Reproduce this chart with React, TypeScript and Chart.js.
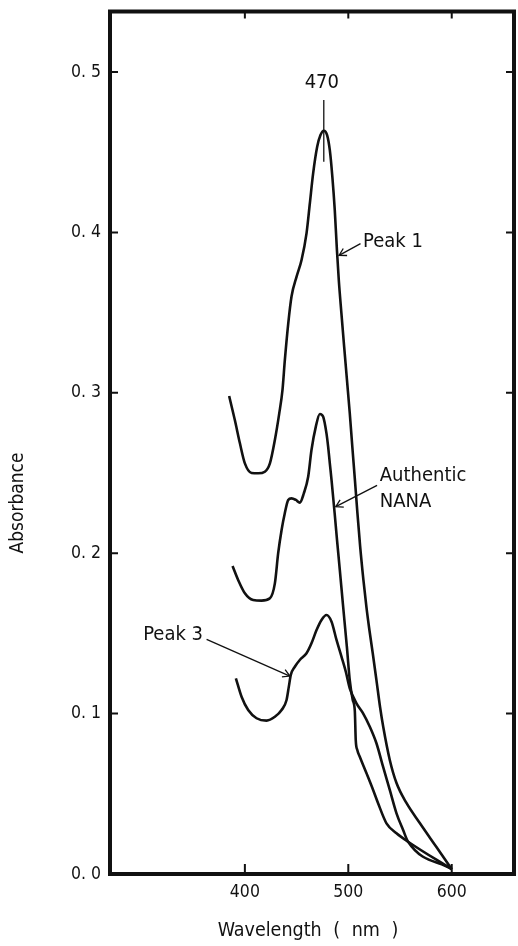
import React, { useEffect, useRef } from "react";
import { Chart, registerables } from "chart.js";

Chart.register(...registerables);

const FONT = "'DejaVu Sans Condensed', 'Liberation Sans Narrow', 'DejaVu Sans', sans-serif";

// Axes
const X_TICKS = [400, 500, 600];
const X_TICK_LABELS = ["400", "500", "600"];
const Y_TICKS = [0, 0.1, 0.2, 0.3, 0.4, 0.5];
const Y_TICK_LABELS = ["0. 0", "0. 1", "0. 2", "0. 3", "0. 4", "0. 5"];
const X_TITLE = "Wavelength ( nm )";
const Y_TITLE = "Absorbance";

// Series: Peak 1
const PEAK1_WL = [
  384.8, 390.3, 395.2, 400, 406.5, 412.9, 419.3, 424.2, 429, 433.2, 436.4, 438.6,
  441.9, 445.1, 450, 454.8, 459.6, 462.8, 466, 469.9, 473.1, 476.3, 479.5, 482.1,
  484.6, 486.9, 489.0, 490.8, 493.3, 496.0, 498.7, 501.4, 503.9, 506.4, 508.8, 511.4,
  514.6, 517.5, 520.4, 523.6, 527.2, 530.7, 533.8, 540.1, 546.6, 556.2, 569.1, 585.2, 600,
];
const PEAK1_ABS = [
  0.298, 0.283, 0.2685, 0.256, 0.25, 0.2498, 0.2508, 0.256, 0.2706, 0.287, 0.302, 0.32,
  0.343, 0.36, 0.3724, 0.3828, 0.3994, 0.418, 0.4368, 0.4534, 0.4607, 0.4634, 0.4607, 0.4514,
  0.4345, 0.414, 0.389, 0.3703, 0.3498, 0.3286, 0.308, 0.2874, 0.2662, 0.2456, 0.2251, 0.2045,
  0.1833, 0.1665, 0.1521, 0.1378, 0.1209, 0.1041, 0.0916, 0.0711, 0.0567, 0.0443, 0.0318, 0.0168, 0.003,
];

// Series: Authentic NANA
const NANA_WL = [
  388.1, 393.5, 400, 408, 416.1, 424.2, 429, 432.2, 435.5, 438.6, 441.9, 445.1, 449.3,
  453.1, 457, 461.2, 464.4, 468.6, 472.5, 475.7, 478.9, 480.5, 482.1, 483.8, 486.8, 489.1,
  491.8, 494.7, 498.6, 501.4, 504.3, 506.3, 507.2, 508.7, 511.1, 517.6, 524, 528.8, 536.9,
  546.6, 557.8, 600,
];
const NANA_ABS = [
  0.192, 0.1833, 0.175, 0.1708, 0.1704, 0.1719, 0.1812, 0.2, 0.2145, 0.2249, 0.2332, 0.2342, 0.2332,
  0.2315, 0.2373, 0.2477, 0.2643, 0.2789, 0.2868, 0.2851, 0.2747, 0.2664, 0.2562, 0.2456, 0.2249, 0.2082,
  0.1895, 0.1688, 0.1417, 0.1209, 0.1085, 0.1016, 0.0835, 0.0773, 0.0731, 0.0628, 0.0524, 0.0441, 0.0316,
  0.0254, 0.0201, 0.003,
];

// Series: Peak 3
const PEAK3_WL = [
  391.3, 396.8, 403.2, 411.3, 421, 429, 435.5, 440.3, 442.5, 444.4, 448.3, 453.1, 459.6,
  464.4, 469.3, 474.1, 478.9, 483.8, 488.6, 493.4, 497.6, 501.4, 507.9, 514.3, 520.8, 527.2,
  533.6, 540.1, 546.6, 553, 557.8, 600,
];
const PEAK3_ABS = [
  0.122, 0.1105, 0.1022, 0.0971, 0.0956, 0.098, 0.1022, 0.1085, 0.1168, 0.1241, 0.1292, 0.1334, 0.1376,
  0.1438, 0.1521, 0.1584, 0.1615, 0.1573, 0.1459, 0.1355, 0.1261, 0.1158, 0.1064, 0.1002, 0.0918, 0.0815,
  0.0669, 0.0524, 0.0378, 0.0274, 0.0201, 0.003,
];

const SERIES_NAMES = ["Peak 1", "Authentic NANA", "Peak 3"];

function toPoints(xs: number[], ys: number[]) {
  return xs.map((x, i) => ({ x, y: ys[i] }));
}

function drawArrow(ctx: CanvasRenderingContext2D, x1: number, y1: number, x2: number, y2: number, head: number) {
  ctx.beginPath();
  ctx.moveTo(x1, y1);
  ctx.lineTo(x2, y2);
  ctx.stroke();
  const ang = Math.atan2(y2 - y1, x2 - x1);
  const a = Math.PI / 6;
  ctx.beginPath();
  ctx.moveTo(x2 - head * Math.cos(ang - a), y2 - head * Math.sin(ang - a));
  ctx.lineTo(x2, y2);
  ctx.lineTo(x2 - head * Math.cos(ang + a), y2 - head * Math.sin(ang + a));
  ctx.stroke();
}

const decorPlugin = {
  id: "decor",
  afterDatasetsDraw(chart: any) {
    const { ctx, chartArea } = chart;
    const xs = chart.scales.x;
    const ys = chart.scales.y;
    const { left, right, top, bottom } = chartArea;
    const px = (v: number) => xs.getPixelForValue(v);
    const py = (v: number) => ys.getPixelForValue(v);
    ctx.save();
    ctx.strokeStyle = "#111";
    ctx.fillStyle = "#111";
    ctx.lineCap = "butt";

    // frame
    ctx.lineWidth = 4;
    ctx.strokeRect(left, top, right - left, bottom - top);

    // inward ticks
    ctx.lineWidth = 2;
    X_TICKS.forEach((v) => {
      const x = px(v);
      ctx.beginPath();
      ctx.moveTo(x, bottom);
      ctx.lineTo(x, bottom - 10);
      ctx.moveTo(x, top);
      ctx.lineTo(x, top + 7);
      ctx.stroke();
    });
    Y_TICKS.filter((v) => v > 0).forEach((v) => {
      const y = py(v);
      ctx.beginPath();
      ctx.moveTo(left, y);
      ctx.lineTo(left + 8, y);
      ctx.moveTo(right, y);
      ctx.lineTo(right - 8, y);
      ctx.stroke();
    });

    // annotations
    ctx.font = `20px ${FONT}`;
    ctx.textBaseline = "alphabetic";
    ctx.textAlign = "center";
    ctx.fillText("470", px(474.4), py(0.4898));
    ctx.lineWidth = 1.3;
    ctx.beginPath();
    ctx.moveTo(px(476.3), py(0.4826));
    ctx.lineTo(px(476.3), py(0.4441));
    ctx.stroke();

    ctx.textAlign = "left";
    ctx.fillText("Peak 1", px(514.3), py(0.3911));
    drawArrow(ctx, px(511.8), py(0.393), px(491.1), py(0.3857), 8);

    ctx.fillText("Authentic", px(530.4), py(0.2452));
    ctx.fillText("NANA", px(530.4), py(0.2286));
    drawArrow(ctx, px(527.8), py(0.2423), px(487.9), py(0.229), 8);

    ctx.fillText("Peak 3", px(301.7), py(0.1459));
    drawArrow(ctx, px(363), py(0.1463), px(443.5), py(0.1234), 8);

    // axis titles
    ctx.font = `19.5px ${FONT}`;
    ctx.textAlign = "center";
    ctx.textBaseline = "middle";
    (ctx as any).wordSpacing = "6px";
    ctx.fillText(X_TITLE, (left + right) / 2 - 4, bottom + 57);
    (ctx as any).wordSpacing = "0px";
    ctx.font = `19px ${FONT}`;
    ctx.translate(18, 503);
    ctx.rotate(-Math.PI / 2);
    ctx.fillText(Y_TITLE, 0, 0);
    ctx.restore();
  },
};

export default function App() {
  const ref = useRef<HTMLCanvasElement | null>(null);
  useEffect(() => {
    if (!ref.current) return;
    const chart = new Chart(ref.current, {
      type: "line",
      data: {
        datasets: [
          { label: SERIES_NAMES[0], data: toPoints(PEAK1_WL, PEAK1_ABS) },
          { label: SERIES_NAMES[1], data: toPoints(NANA_WL, NANA_ABS) },
          { label: SERIES_NAMES[2], data: toPoints(PEAK3_WL, PEAK3_ABS) },
        ].map((d) => ({
          ...d,
          borderColor: "#111",
          borderWidth: 2.6,
          pointRadius: 0,
          fill: false,
          cubicInterpolationMode: "monotone" as const,
        })),
      },
      options: {
        animation: false,
        responsive: true,
        maintainAspectRatio: false,
        layout: { padding: { left: 0, right: 4, top: 11.5, bottom: 0 } },
        plugins: { legend: { display: false }, tooltip: { enabled: false } },
        scales: {
          x: {
            type: "linear",
            min: 269.6,
            max: 660.2,
            grid: { display: false, drawTicks: false },
            border: { display: false },
            afterFit: (s: any) => {
              s.height = 72;
              s.paddingLeft = 0;
              s.paddingRight = 0;
            },
            afterBuildTicks: (s: any) => {
              s.ticks = X_TICKS.map((value) => ({ value }));
            },
            ticks: {
              padding: 8,
              color: "#111",
              font: { family: FONT, size: 17.5 },
              maxRotation: 0,
              callback: (v: any) => {
                const i = X_TICKS.indexOf(Number(v));
                return i >= 0 ? X_TICK_LABELS[i] : "";
              },
            },
          },
          y: {
            type: "linear",
            min: 0,
            max: 0.5377,
            grid: { display: false, drawTicks: false },
            border: { display: false },
            afterFit: (s: any) => {
              s.width = 110;
              s.paddingTop = 0;
              s.paddingBottom = 0;
            },
            afterBuildTicks: (s: any) => {
              s.ticks = Y_TICKS.map((value) => ({ value }));
            },
            ticks: {
              padding: 9,
              color: "#111",
              font: { family: FONT, size: 17.5 },
              callback: (v: any) => {
                const i = Y_TICKS.findIndex((t) => Math.abs(t - Number(v)) < 1e-9);
                return i >= 0 ? Y_TICK_LABELS[i] : "";
              },
            },
          },
        },
      },
      plugins: [decorPlugin],
    });
    return () => chart.destroy();
  }, []);
  return (
    <div style={{ position: "absolute", left: 0, top: 0, width: 518, height: 946, background: "#fff" }}>
      <canvas ref={ref} />
    </div>
  );
}
